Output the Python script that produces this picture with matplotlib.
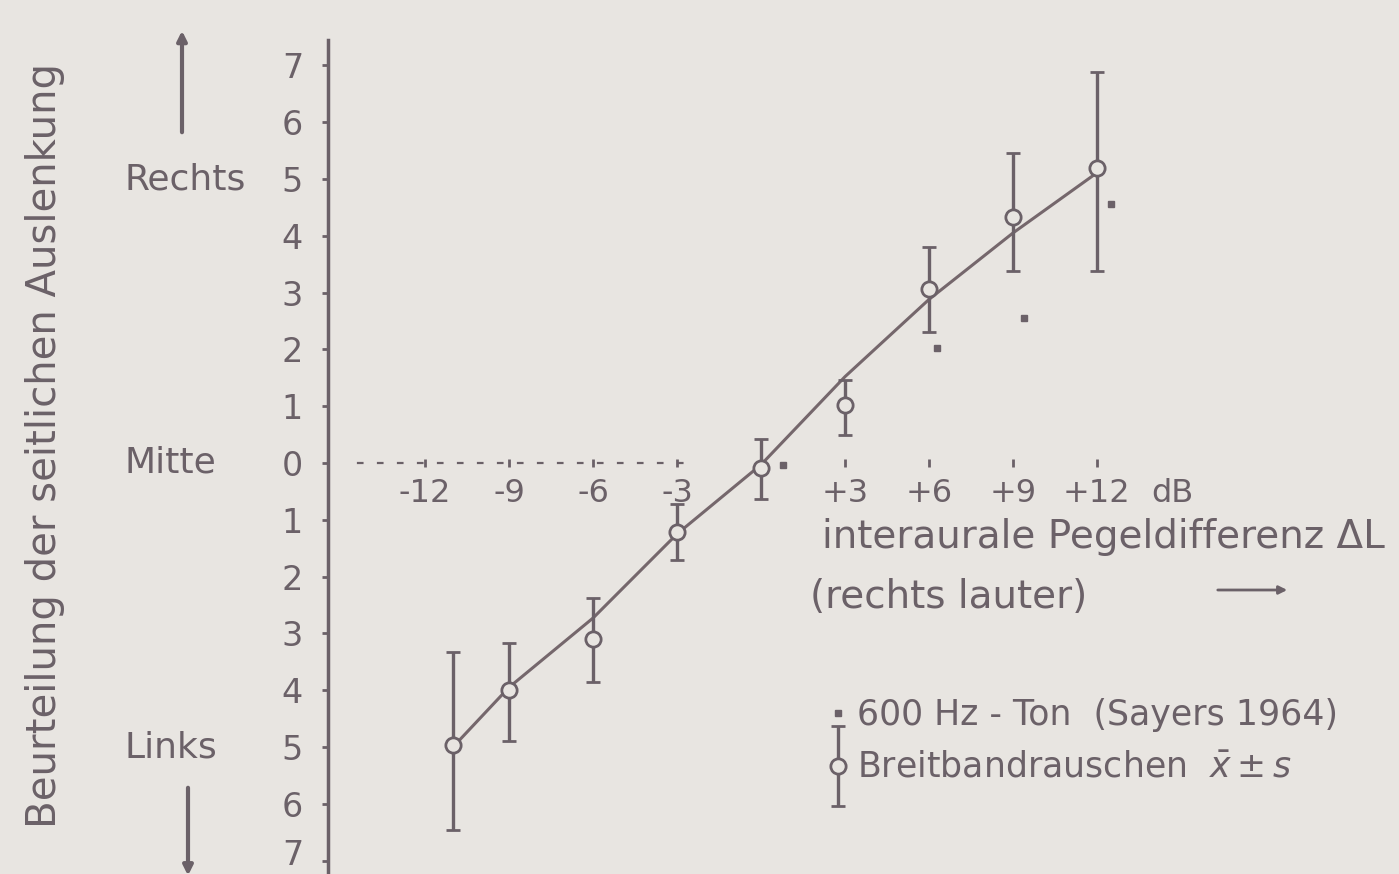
import matplotlib
matplotlib.use('Agg')
import matplotlib.pyplot as plt
import matplotlib.transforms as mtransforms
from matplotlib.container import ErrorbarContainer
from matplotlib.legend_handler import HandlerErrorbar
from matplotlib.ticker import FuncFormatter

plt.rcParams['font.family'] = ['DejaVu Sans']

ink = '#6b6168'
paper = '#e8e5e1'

# Breitbandrauschen, Mittelwert und Standardabweichung
pegel_db = [-11, -9, -6, -3, 0, 3, 6, 9, 12]
mittel = [-4.97, -3.99, -3.09, -1.21, -0.09, 1.02, 3.07, 4.33, 5.20]
obere = [-3.33, -3.17, -2.37, -0.73, 0.43, 1.47, 3.81, 5.46, 6.88]
untere = [-6.46, -4.90, -3.86, -1.70, -0.64, 0.49, 2.30, 3.38, 3.38]
# durchgezogene Linie
linie = [-5.00, -3.95, -2.73, -1.25, -0.03, 1.52, 2.88, 4.05, 5.11]

# 600 Hz-Ton (Sayers 1964)
sayers_db = [0.8, 6.3, 9.4, 12.5]
sayers_y = [-0.03, 2.03, 2.56, 4.56]

y_ticks = list(range(-7, 8))
x_ticks = [-12, -9, -6, -3, 3, 6, 9, 12]
x_labels = ['-12', '-9', '-6', '-3', '+3', '+6', '+9', '+12']

fig = plt.figure(figsize=(13.99, 8.74), dpi=100, facecolor=paper)
ax = fig.add_axes([0, 0, 1, 1])
ax.set_facecolor(paper)
ax.set_xlim(-761 / 28, (1399 - 761) / 28)
ax.set_ylim(-(874 - 463) / 56.8, 463 / 56.8)

# Achsen
for s in ['top', 'right']:
    ax.spines[s].set_visible(False)
ax.spines['left'].set_position(('data', -15.46))
ax.spines['left'].set_bounds(-7.3, 7.45)
ax.spines['left'].set_color(ink)
ax.spines['left'].set_linewidth(2.5)
ax.spines['bottom'].set_position(('data', 0))
ax.spines['bottom'].set_bounds(-14.4, -2.8)
ax.spines['bottom'].set_color(ink)
ax.spines['bottom'].set_linewidth(1.6)
ax.spines['bottom'].set_linestyle((0, (2, 7)))

ax.set_yticks(y_ticks)
ax.yaxis.set_major_formatter(FuncFormatter(lambda v, p: '%d' % abs(v)))
ax.tick_params(axis='y', direction='out', length=4, width=2, pad=14,
               labelsize=24, colors=ink)
# unterste Zahl etwas anheben, damit sie nicht abgeschnitten wird
t0 = ax.yaxis.get_major_ticks()[0].label1
t0.set_transform(t0.get_transform() +
                 mtransforms.ScaledTranslation(0, 6 / 72, fig.dpi_scale_trans))
ax.set_xticks(x_ticks, x_labels)
ax.tick_params(axis='x', direction='inout', length=6, width=2, pad=8,
               labelsize=23, colors=ink)
ax.annotate('dB', xy=(12, 0), xytext=(54, -22), textcoords='offset points',
            ha='center', va='center', fontsize=23, color=ink)

# Daten
ax.plot(pegel_db, linie, color='#75676c', lw=2.2, zorder=2)
fehler = [[m - u for m, u in zip(mittel, untere)],
          [o - m for m, o in zip(mittel, obere)]]
eb = ax.errorbar(pegel_db, mittel, yerr=fehler, fmt='o', ms=11, mfc=paper,
                 mec=ink, mew=2, ecolor=ink, elinewidth=2.4, capsize=5,
                 capthick=2.4, zorder=3, label='Breitbandrauschen  $\\bar{x}\\pm s$')
sy, = ax.plot(sayers_db, sayers_y, 's', ms=5, color=ink,
              label='600 Hz - Ton  (Sayers 1964)', zorder=3)

ax.legend(handles=[sy, eb], loc='upper left',
          bbox_to_anchor=(814 / 1399, 1 - 684 / 874), frameon=False,
          fontsize=25, labelcolor=ink, handlelength=0.6, handletextpad=0.25,
          labelspacing=0.55, borderaxespad=0,
          handler_map={ErrorbarContainer: HandlerErrorbar(xerr_size=0.3, yerr_size=1.15)})

# Beschriftung links
trans = mtransforms.blended_transform_factory(ax.transAxes, ax.transData)
for wort, pos in [('Rechts', 5), ('Mitte', 0), ('Links', -5)]:
    ax.text(124 / 1399, pos, wort, transform=trans, ha='left', va='center',
            fontsize=26, color=ink)
ax.annotate('', xy=(182 / 1399, 1 - 28 / 874), xytext=(182 / 1399, 1 - 135 / 874),
            xycoords='axes fraction',
            arrowprops=dict(arrowstyle='-|>', color=ink, lw=3, mutation_scale=14))
ax.annotate('', xy=(188 / 1399, -0.005), xytext=(188 / 1399, 1 - 785 / 874),
            xycoords='axes fraction',
            arrowprops=dict(arrowstyle='-|>', color=ink, lw=3, mutation_scale=14))

fig.text(45 / 1399, 1 - 445 / 874, 'Beurteilung der seitlichen Auslenkung',
         rotation=90, ha='center', va='center', fontsize=29, color=ink)

ax.text(822 / 1399, 1 - 537 / 874, 'interaurale Pegeldifferenz \u0394L',
        transform=ax.transAxes, ha='left', va='center', fontsize=28, color=ink)
ax.text(810 / 1399, 1 - 597 / 874, '(rechts lauter)',
        transform=ax.transAxes, ha='left', va='center', fontsize=28, color=ink)
ax.annotate('', xy=(1290 / 1399, 1 - 590 / 874), xytext=(1215 / 1399, 1 - 590 / 874),
            xycoords='axes fraction',
            arrowprops=dict(arrowstyle='-|>', color=ink, lw=2, mutation_scale=12))

fig.savefig('out.png', dpi=100, facecolor=paper)
